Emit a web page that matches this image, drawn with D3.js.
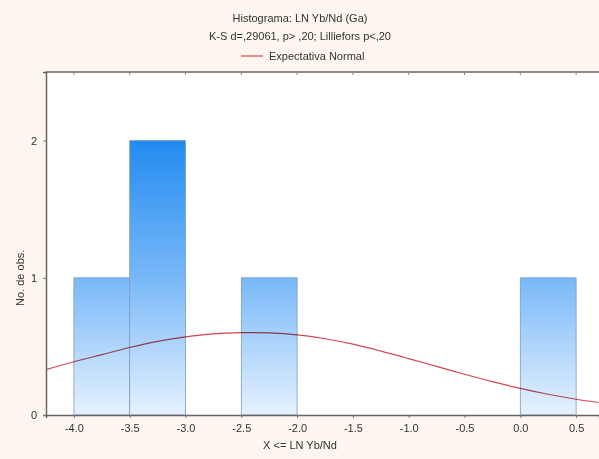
<!DOCTYPE html>
<html>
<head>
<meta charset="utf-8">
<script src="https://cdn.jsdelivr.net/npm/d3@7"></script>
<style>
  body { margin: 0; background: #fcf6ee; }
  text { font-family: "Liberation Sans", Arial, sans-serif; fill: #333; }
</style>
</head>
<body>
<svg id="chart" width="599" height="459"></svg>
<script>
// histogram bins (lower edge, upper edge, count)
const binLo = [-4.0, -3.5, -2.5, 0.0];
const binHi = [-3.5, -3.0, -2.0, 0.5];
const counts = [1, 2, 1, 1];

// expected normal curve
const curveX = [-4.25, -4.0, -3.75, -3.5, -3.25, -3.0, -2.75, -2.5, -2.25, -2.0, -1.75,
  -1.5, -1.25, -1.0, -0.75, -0.5, -0.25, 0.0, 0.25, 0.5, 0.7];
const curveY = [0.331, 0.388, 0.440, 0.492, 0.537, 0.570, 0.592, 0.600, 0.598, 0.584, 0.556,
  0.516, 0.466, 0.411, 0.354, 0.297, 0.243, 0.194, 0.151, 0.115, 0.091];

const xTicks = [-4.0, -3.5, -3.0, -2.5, -2.0, -1.5, -1.0, -0.5, 0.0, 0.5];
const yTicks = [0, 1, 2];

const titleLines = ["Histograma: LN Yb/Nd (Ga)", "K-S d=,29061, p> ,20; Lilliefors p<,20"];
const legendLabel = "Expectativa Normal";
const xLabel = "X <= LN Yb/Nd";
const yLabel = "No. de obs.";

const M = { left: 46, right: 599, top: 72, bottom: 415 };

const svg = d3.select("#chart");
const x = d3.scaleLinear().domain([-4.25, 0.705]).range([M.left, M.right]);
const y = d3.scaleLinear().domain([0, 2.5]).range([M.bottom, M.top]);

// plot background
svg.append("rect")
  .attr("x", M.left).attr("y", M.top)
  .attr("width", M.right - M.left).attr("height", M.bottom - M.top)
  .attr("fill", "#ffffff");

const defs = svg.append("defs");
const grad = defs.append("linearGradient")
  .attr("id", "barFill")
  .attr("gradientUnits", "userSpaceOnUse")
  .attr("x1", 0).attr("x2", 0)
  .attr("y1", y(0)).attr("y2", y(2));
grad.append("stop").attr("offset", "0%").attr("stop-color", "#e6f2fe");
grad.append("stop").attr("offset", "50%").attr("stop-color", "#78b8f8");
grad.append("stop").attr("offset", "100%").attr("stop-color", "#228bf0");

const line = d3.line()
  .x((d, i) => x(curveX[i]))
  .y(d => y(d))
  .curve(d3.curveCatmullRom);

svg.append("g")
  .selectAll("rect")
  .data(counts)
  .join("rect")
  .attr("x", (d, i) => x(binLo[i]))
  .attr("y", d => y(d))
  .attr("width", (d, i) => x(binHi[i]) - x(binLo[i]))
  .attr("height", d => y(0) - y(d))
  .attr("fill", "url(#barFill)")
  .attr("stroke", "#7d9cc4")
  .attr("stroke-width", 0.8);

// curve drawn over the bars, blended so it darkens inside them
svg.append("path")
  .datum(curveY)
  .attr("d", line)
  .attr("fill", "none")
  .attr("stroke", "#d4454f")
  .attr("stroke-width", 1.2)
  .style("mix-blend-mode", "multiply");

// axes
const xAxis = svg.append("g")
  .attr("transform", `translate(0,${M.bottom})`)
  .call(d3.axisBottom(x).tickValues(xTicks).tickFormat(d3.format(".1f")).tickSize(3).tickPadding(6));
const yAxis = svg.append("g")
  .attr("transform", `translate(${M.left},0)`)
  .call(d3.axisLeft(y).tickValues(yTicks).tickFormat(d3.format("d")).tickSize(3).tickPadding(6));
[xAxis, yAxis].forEach(g => {
  g.select(".domain").attr("stroke", "#666").attr("stroke-width", 1.5);
  g.selectAll(".tick line").attr("stroke", "#777");
  g.selectAll(".tick text").attr("font-size", 11).attr("fill", "#333");
});
xAxis.selectAll(".tick text").text(d => d3.format(".1f")(d).replace("−", "-"));

// top border with inward ticks
svg.append("line")
  .attr("x1", M.left).attr("x2", M.right)
  .attr("y1", M.top).attr("y2", M.top)
  .attr("stroke", "#666").attr("stroke-width", 1.5);
svg.append("g")
  .selectAll("line")
  .data(xTicks)
  .join("line")
  .attr("x1", d => x(d)).attr("x2", d => x(d))
  .attr("y1", M.top).attr("y2", M.top + 3)
  .attr("stroke", "#888");

// titles
svg.append("g")
  .selectAll("text")
  .data(titleLines)
  .join("text")
  .attr("x", 300)
  .attr("y", (d, i) => 22 + i * 18)
  .attr("text-anchor", "middle")
  .attr("font-size", 11)
  .text(d => d);

svg.append("line")
  .attr("x1", 241).attr("x2", 263)
  .attr("y1", 56).attr("y2", 56)
  .attr("stroke", "#d4454f").attr("stroke-width", 1.2);
svg.append("text")
  .attr("x", 269).attr("y", 60)
  .attr("font-size", 11)
  .text(legendLabel);

svg.append("text")
  .attr("x", 300).attr("y", 449)
  .attr("text-anchor", "middle")
  .attr("font-size", 11)
  .text(xLabel);

svg.append("text")
  .attr("transform", `translate(24,${y(1.0)}) rotate(-90)`)
  .attr("text-anchor", "middle")
  .attr("font-size", 11)
  .text(yLabel);
</script>
</body>
</html>
